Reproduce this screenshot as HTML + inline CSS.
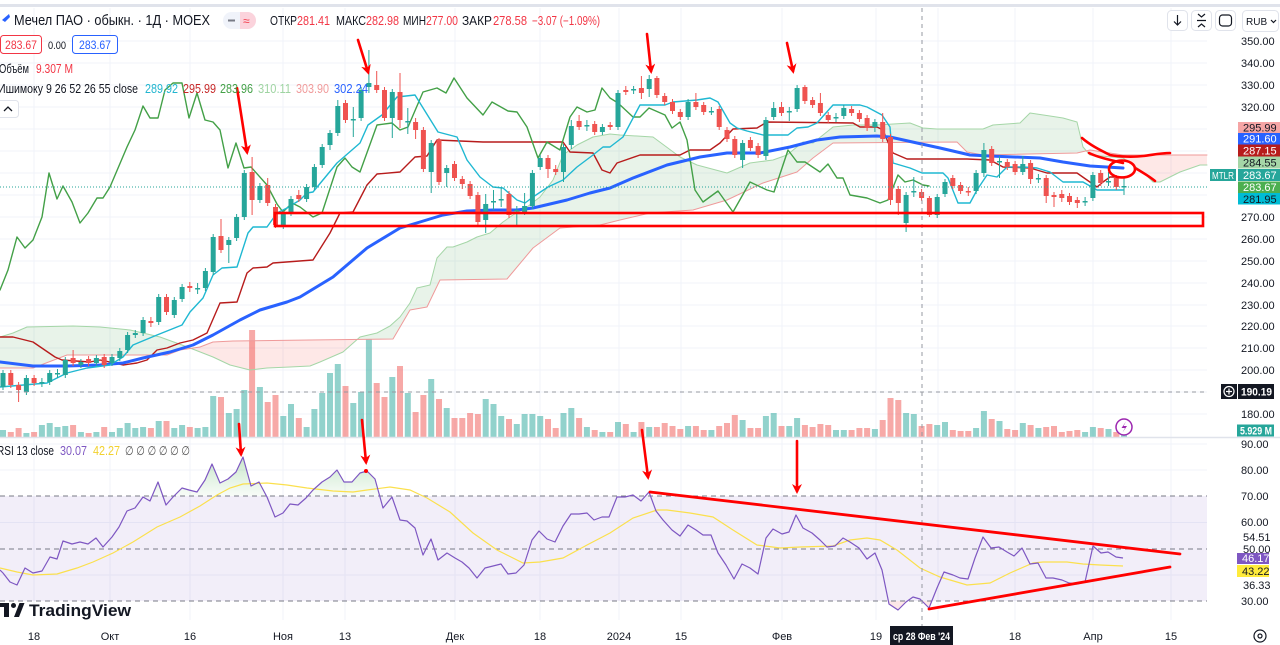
<!DOCTYPE html>
<html><head><meta charset="utf-8">
<style>
html,body{margin:0;padding:0;background:#fff;width:1280px;height:645px;overflow:hidden}
svg{display:block;font-family:"Liberation Sans","DejaVu Sans",sans-serif}
</style></head><body>
<svg width="1280" height="645" viewBox="0 0 1280 645" xmlns="http://www.w3.org/2000/svg">
<defs>
<clipPath id="cg1"><rect x="0" y="0" width="190" height="440"/></clipPath>
<clipPath id="cr1"><rect x="190" y="0" width="165" height="440"/></clipPath>
<clipPath id="cg2"><rect x="355" y="0" width="731" height="440"/></clipPath>
<clipPath id="cr2"><rect x="1086" y="0" width="124" height="440"/></clipPath>
<clipPath id="ob"><rect x="0" y="438" width="1207" height="58"/></clipPath>
<clipPath id="os"><rect x="0" y="601" width="1207" height="19"/></clipPath>
<linearGradient id="gob" x1="0" y1="450" x2="0" y2="496" gradientUnits="userSpaceOnUse">
<stop offset="0" stop-color="#4caf50" stop-opacity="0.35"/><stop offset="1" stop-color="#4caf50" stop-opacity="0.04"/></linearGradient>
<marker id="ah" viewBox="0 0 10 10" refX="7" refY="5" markerWidth="10" markerHeight="10" markerUnits="userSpaceOnUse" orient="auto"><path d="M0,0 L10,5 L0,10 L3,5 z" fill="#ff0000"/></marker>
</defs>
<rect x="0" y="0" width="1280" height="645" fill="#fff"/>
<rect x="0" y="4" width="1280" height="3" fill="#e0e3eb"/>

<!-- grid -->
<g stroke="#f0f3fa" stroke-width="1">
<path d="M0,41H1207M0,63H1207M0,85H1207M0,107H1207M0,129H1207M0,151H1207M0,173H1207M0,195H1207M0,217H1207M0,239H1207M0,261H1207M0,283H1207M0,305H1207M0,326H1207M0,348H1207M0,370H1207M0,392H1207M0,414H1207M0,444H1207M0,470H1207M0,522.5H1207M0,575H1207"/>
<path d="M34,8V620M110,8V620M190,8V620M283,8V620M345,8V620M455,8V620M540,8V620M619,8V620M681,8V620M782,8V620M876,8V620M938,8V620M1015,8V620M1093,8V620M1171,8V620"/>
</g>
<rect x="0" y="496" width="1207" height="105" fill="#7e57c2" fill-opacity="0.1"/>

<!-- cloud -->
<g>
<polygon clip-path="url(#cg1)" fill="rgba(67,160,71,0.12)" points="0,337 13,333 27,327 73,326 100,327 130,330 160,337 182,345 190,348 213,357 230,365 250,370 267,368 290,367 310,366 320,362 343,352 360,337 377,333 390,326 400,317 410,303 417,288 430,285 437,258 447,247 453,247 467,242 477,237 490,233 503,222 513,215 527,207 540,197 553,180 563,155 577,145 593,137 610,134 620,135 653,137 680,157 697,165 727,173 750,163 773,160 787,155 803,142 813,143 823,135 833,127 853,125 877,125 910,123 923,128 937,129 983,129 993,125 1020,123 1030,113 1050,116 1063,118 1077,122 1083,147 1090,155 1123,158 1143,172 1153,182 1160,182 1180,172 1200,165 1207,165 1207,155 1123,155 1090,150 1077,153 983,155 967,152 957,142 833,143 813,158 797,172 763,183 727,200 693,210 650,213 620,220 600,225 560,228 533,248 507,279 440,280 427,307 410,310 393,339 310,340 233,341 213,342 200,347 180,350 167,355 67,355 33,368 0,368"/>
<polygon clip-path="url(#cr1)" fill="rgba(244,67,54,0.12)" points="0,337 13,333 27,327 73,326 100,327 130,330 160,337 182,345 190,348 213,357 230,365 250,370 267,368 290,367 310,366 320,362 343,352 360,337 377,333 390,326 400,317 410,303 417,288 430,285 437,258 447,247 453,247 467,242 477,237 490,233 503,222 513,215 527,207 540,197 553,180 563,155 577,145 593,137 610,134 620,135 653,137 680,157 697,165 727,173 750,163 773,160 787,155 803,142 813,143 823,135 833,127 853,125 877,125 910,123 923,128 937,129 983,129 993,125 1020,123 1030,113 1050,116 1063,118 1077,122 1083,147 1090,155 1123,158 1143,172 1153,182 1160,182 1180,172 1200,165 1207,165 1207,155 1123,155 1090,150 1077,153 983,155 967,152 957,142 833,143 813,158 797,172 763,183 727,200 693,210 650,213 620,220 600,225 560,228 533,248 507,279 440,280 427,307 410,310 393,339 310,340 233,341 213,342 200,347 180,350 167,355 67,355 33,368 0,368"/>
<polygon clip-path="url(#cg2)" fill="rgba(67,160,71,0.12)" points="0,337 13,333 27,327 73,326 100,327 130,330 160,337 182,345 190,348 213,357 230,365 250,370 267,368 290,367 310,366 320,362 343,352 360,337 377,333 390,326 400,317 410,303 417,288 430,285 437,258 447,247 453,247 467,242 477,237 490,233 503,222 513,215 527,207 540,197 553,180 563,155 577,145 593,137 610,134 620,135 653,137 680,157 697,165 727,173 750,163 773,160 787,155 803,142 813,143 823,135 833,127 853,125 877,125 910,123 923,128 937,129 983,129 993,125 1020,123 1030,113 1050,116 1063,118 1077,122 1083,147 1090,155 1123,158 1143,172 1153,182 1160,182 1180,172 1200,165 1207,165 1207,155 1123,155 1090,150 1077,153 983,155 967,152 957,142 833,143 813,158 797,172 763,183 727,200 693,210 650,213 620,220 600,225 560,228 533,248 507,279 440,280 427,307 410,310 393,339 310,340 233,341 213,342 200,347 180,350 167,355 67,355 33,368 0,368"/>
<polygon clip-path="url(#cr2)" fill="rgba(244,67,54,0.12)" points="0,337 13,333 27,327 73,326 100,327 130,330 160,337 182,345 190,348 213,357 230,365 250,370 267,368 290,367 310,366 320,362 343,352 360,337 377,333 390,326 400,317 410,303 417,288 430,285 437,258 447,247 453,247 467,242 477,237 490,233 503,222 513,215 527,207 540,197 553,180 563,155 577,145 593,137 610,134 620,135 653,137 680,157 697,165 727,173 750,163 773,160 787,155 803,142 813,143 823,135 833,127 853,125 877,125 910,123 923,128 937,129 983,129 993,125 1020,123 1030,113 1050,116 1063,118 1077,122 1083,147 1090,155 1123,158 1143,172 1153,182 1160,182 1180,172 1200,165 1207,165 1207,155 1123,155 1090,150 1077,153 983,155 967,152 957,142 833,143 813,158 797,172 763,183 727,200 693,210 650,213 620,220 600,225 560,228 533,248 507,279 440,280 427,307 410,310 393,339 310,340 233,341 213,342 200,347 180,350 167,355 67,355 33,368 0,368"/>
</g>

<!-- volume -->
<path fill="rgba(38,166,154,0.5)" d="M0,437V430h6V437zM23.4,437V433h6V437zM38.9,437V425h6V437zM46.7,437V423h6V437zM54.5,437V427h6V437zM62.3,437V426h6V437zM77.9,437V432h6V437zM93.4,437V432h6V437zM109,437V432h6V437zM116.8,437V428h6V437zM124.6,437V423h6V437zM132.3,437V428h6V437zM140.1,437V427h6V437zM155.7,437V421h6V437zM171.3,437V428h6V437zM179.1,437V425h6V437zM194.6,437V428h6V437zM202.4,437V427h6V437zM210.2,437V396h6V437zM225.8,437V413h6V437zM233.6,437V409h6V437zM241.3,437V390h6V437zM256.9,437V387h6V437zM280.3,437V416h6V437zM288,437V404h6V437zM303.6,437V427h6V437zM311.4,437V409h6V437zM319.2,437V393h6V437zM327,437V373h6V437zM334.8,437V364h6V437zM350.3,437V403h6V437zM358.1,437V392h6V437zM365.9,437V339h6V437zM389.3,437V377h6V437zM404.8,437V393h6V437zM428.2,437V379h6V437zM443.7,437V408h6V437zM482.7,437V399h6V437zM490.5,437V404h6V437zM498.2,437V416h6V437zM513.8,437V424h6V437zM521.6,437V414h6V437zM529.4,437V414h6V437zM537.2,437V416h6V437zM560.5,437V413h6V437zM568.3,437V408h6V437zM583.9,437V427h6V437zM599.4,437V432h6V437zM615,437V422h6V437zM630.6,437V432h6V437zM646.2,437V427h6V437zM685.1,437V426h6V437zM708.4,437V430h6V437zM739.6,437V420h6V437zM762.9,437V416h6V437zM770.7,437V413h6V437zM786.3,437V426h6V437zM794.1,437V418h6V437zM833,437V430h6V437zM840.8,437V430h6V437zM871.9,437V429h6V437zM903.1,437V413h6V437zM910.8,437V414h6V437zM934.2,437V425h6V437zM942,437V422h6V437zM973.1,437V428h6V437zM980.9,437V411h6V437zM996.5,437V421h6V437zM1019.8,437V423h6V437zM1035.4,437V428h6V437zM1082.1,437V432h6V437zM1089.9,437V427h6V437zM1105.5,437V429h6V437zM1121,437V435h6V437z"/>
<path fill="rgba(239,83,80,0.5)" d="M7.8,437V432h6V437zM15.6,437V428h6V437zM31.1,437V432h6V437zM70.1,437V425h6V437zM85.6,437V433h6V437zM101.2,437V427h6V437zM147.9,437V428h6V437zM163.5,437V421h6V437zM186.8,437V427h6V437zM218,437V397h6V437zM249.1,437V330h6V437zM264.7,437V402h6V437zM272.5,437V395h6V437zM295.8,437V418h6V437zM342.5,437V386h6V437zM373.7,437V383h6V437zM381.5,437V397h6V437zM397,437V366h6V437zM412.6,437V412h6V437zM420.4,437V395h6V437zM436,437V399h6V437zM451.5,437V418h6V437zM459.3,437V418h6V437zM467.1,437V413h6V437zM474.9,437V414h6V437zM506,437V419h6V437zM545,437V419h6V437zM552.7,437V428h6V437zM576.1,437V418h6V437zM591.7,437V430h6V437zM607.2,437V432h6V437zM622.8,437V424h6V437zM638.4,437V422h6V437zM653.9,437V427h6V437zM661.7,437V423h6V437zM669.5,437V426h6V437zM677.3,437V429h6V437zM692.9,437V426h6V437zM700.7,437V430h6V437zM716.2,437V426h6V437zM724,437V423h6V437zM731.8,437V415h6V437zM747.4,437V428h6V437zM755.1,437V428h6V437zM778.5,437V426h6V437zM801.9,437V425h6V437zM809.6,437V427h6V437zM817.4,437V424h6V437zM825.2,437V425h6V437zM848.6,437V430h6V437zM856.4,437V428h6V437zM864.1,437V428h6V437zM879.7,437V420h6V437zM887.5,437V398h6V437zM895.3,437V400h6V437zM918.6,437V426h6V437zM926.4,437V424h6V437zM949.8,437V430h6V437zM957.6,437V431h6V437zM965.3,437V431h6V437zM988.7,437V419h6V437zM1004.3,437V429h6V437zM1012.1,437V430h6V437zM1027.6,437V425h6V437zM1043.2,437V427h6V437zM1051,437V426h6V437zM1058.8,437V432h6V437zM1066.5,437V431h6V437zM1074.3,437V430h6V437zM1097.7,437V428h6V437zM1113.3,437V432h6V437z"/>

<!-- ichimoku lines -->
<g fill="none" stroke-linejoin="round" stroke-linecap="round">
<polyline stroke="#a5d6a7" stroke-width="1" points="0,337 13,333 27,327 73,326 100,327 130,330 160,337 182,345 190,348 213,357 230,365 250,370 267,368 290,367 310,366 320,362 343,352 360,337 377,333 390,326 400,317 410,303 417,288 430,285 437,258 447,247 453,247 467,242 477,237 490,233 503,222 513,215 527,207 540,197 553,180 563,155 577,145 593,137 610,134 620,135 653,137 680,157 697,165 727,173 750,163 773,160 787,155 803,142 813,143 823,135 833,127 853,125 877,125 910,123 923,128 937,129 983,129 993,125 1020,123 1030,113 1050,116 1063,118 1077,122 1083,147 1090,155 1123,158 1143,172 1153,182 1160,182 1180,172 1200,165 1207,165"/>
<polyline stroke="#ef9a9a" stroke-width="1" points="0,368 33,368 67,355 167,355 180,350 200,347 213,342 233,341 310,340 393,339 410,310 427,307 440,280 507,279 533,248 560,228 600,225 620,220 650,213 693,210 727,200 763,183 797,172 813,158 833,143 957,142 967,152 983,155 1077,153 1090,150 1123,155 1207,155"/>
<polyline stroke="#b71c1c" stroke-width="1.4" points="0,337 13,337 33,342 55,357 62,360 90,362 100,360 110,362 123,365 137,363 147,360 157,350 167,348 180,343 193,340 207,333 220,303 237,302 247,273 253,268 267,267 273,263 313,260 330,233 340,213 353,212 367,185 377,174 400,172 415,157 427,156 437,140 483,142 563,142 570,152 593,153 602,170 610,173 617,163 640,155 680,155 690,150 710,150 720,143 733,129 757,128 767,122 853,123 860,127 877,127 883,130 890,147 893,153 907,159 967,159 990,160 1003,167 1030,168 1047,173 1077,173 1087,180 1097,187 1103,182 1110,177 1123,177"/>
<polyline stroke="#43a047" stroke-width="1.4" points="0,290 8,270 17,237 25,248 33,240 42,217 49,173 57,199 63,186 72,202 80,223 88,213 97,198 103,198 110,187 127,147 135,130 143,106 150,118 158,118 165,90 173,83 182,83 189,118 197,93 205,120 213,122 220,130 228,168 236,143 244,168 251,167 267,185 277,204 283,212 292,203 300,207 313,217 322,213 337,167 345,158 352,167 360,172 377,125 392,123 400,130 408,127 423,92 437,88 446,93 454,78 467,98 483,115 492,102 508,111 517,112 527,127 538,158 547,142 560,150 570,117 577,107 587,112 595,110 602,88 610,98 618,103 633,117 640,117 649,108 665,115 672,128 680,122 687,140 695,190 703,202 718,191 733,212 750,182 767,190 774,192 788,150 797,162 805,162 820,172 828,164 837,178 843,178 850,195 867,198 880,203 888,200 898,175 905,182 913,180 923,185 929,186"/>
<polyline stroke="#2962ff" stroke-width="3" points="0,362 33,366 67,366 100,365 123,363 143,358 170,352 193,345 213,335 240,320 260,310 287,302 300,297 333,277 367,248 400,228 420,222 443,215 467,211 493,210 517,210 533,208 567,200 590,193 610,188 633,178 667,165 700,157 727,153 760,153 790,147 817,140 840,137 877,136 890,137 917,143 940,148 970,155 990,156 1040,158 1063,162 1090,166 1123,168"/>
<polyline stroke="#1fb8d2" stroke-width="1.4" points="0,387 47,383 67,373 87,368 110,365 123,357 133,345 157,335 182,325 190,312 203,298 213,275 222,268 237,267 248,233 253,227 267,227 277,213 287,208 300,200 307,193 313,192 337,163 360,143 368,125 382,115 397,97 415,95 438,132 457,137 467,160 480,177 493,187 503,188 517,200 525,203 533,197 548,187 563,180 577,167 593,155 603,147 610,147 623,137 640,105 665,105 673,102 697,100 710,98 718,102 730,123 737,128 747,131 763,135 788,135 797,128 808,127 817,123 833,105 860,105 867,107 882,115 890,127 893,163 910,168 922,173 943,173 948,178 958,203 970,203 977,190 987,175 997,177 1007,167 1023,167 1037,168 1050,172 1063,182 1083,182 1097,190 1123,190"/>
</g>

<!-- candles -->
<path fill="none" stroke="#26a69a" stroke-width="1" d="M3,370V390M26.4,375V395M41.9,378V387M49.7,370V385M57.5,369V378M65.3,357V378M80.9,359V368M96.4,355V366M112,354V366M119.8,348V361M127.6,332V353M135.3,330V338M143.1,317V336M158.7,294V325M174.3,297V318M182.1,284V302M197.6,283V294M205.4,268V291M213.2,234V275M228.8,237V263M236.6,214V241M244.3,170V220M259.9,183V203M283.3,210V229M291,196V216M306.6,184V202M314.4,164V190M322.2,144V168M330,130V150M337.8,100V136M353.3,107V137M361.1,87V121M368.9,50V93M392.3,89V138M407.8,108V134M431.2,140V193M446.7,165V187M485.7,194V233M493.5,190V210M501.2,188V207M516.8,206V225M524.6,193V215M532.4,170V209M540.2,155V170M563.5,144V182M571.3,120V149M586.9,120V131M602.4,124V135M618,90V130M633.6,86V94M649.2,75V97M688.1,99V120M711.4,107V115M742.6,140V168M765.9,117V160M773.7,102V120M789.3,107V121M797.1,85V112M836,113V122M843.8,105V119M874.9,119V132M906.1,192V232M913.8,177V197M937.2,194V218M945,179V197M976.1,170V194M983.9,143V177M999.5,156V178M1022.8,156V175M1038.4,174V183M1085.1,197V206M1092.9,172V201M1108.5,172V186M1124,178V195"/>
<path fill="#26a69a" d="M0.5,373h5V387h-5zM23.9,378h5V392h-5zM39.4,382h5V383.5h-5zM47.2,373h5V382h-5zM55,373h5V374.5h-5zM62.8,360h5V375h-5zM78.4,362h5V365h-5zM93.9,358h5V363h-5zM109.5,357h5V363h-5zM117.3,351h5V358h-5zM125.1,335h5V350h-5zM132.8,333h5V335h-5zM140.6,320h5V333h-5zM156.2,297h5V322h-5zM171.8,300h5V315h-5zM179.6,287h5V299h-5zM195.1,288h5V289.5h-5zM202.9,271h5V288h-5zM210.7,237h5V272h-5zM226.3,240h5V245h-5zM234.1,217h5V238h-5zM241.8,173h5V217h-5zM257.4,186h5V200h-5zM280.8,213h5V225h-5zM288.5,199h5V213h-5zM304.1,187h5V199h-5zM311.9,167h5V187h-5zM319.7,147h5V165h-5zM327.5,133h5V145h-5zM335.3,106h5V133h-5zM350.8,119h5V120.5h-5zM358.6,90h5V118h-5zM366.4,83h5V87h-5zM389.8,92h5V118h-5zM405.3,121h5V122.5h-5zM428.7,143h5V172h-5zM444.2,168h5V173h-5zM483.2,204h5V220h-5zM491,201h5V202.5h-5zM498.7,199h5V200.5h-5zM514.3,210h5V211.5h-5zM522.1,206h5V212h-5zM529.9,173h5V206h-5zM537.7,158h5V167h-5zM561,147h5V172h-5zM568.8,126h5V145h-5zM584.4,125h5V126.5h-5zM599.9,127h5V132h-5zM615.5,93h5V127h-5zM631.1,89h5V90.5h-5zM646.7,79h5V89h-5zM685.6,102h5V117h-5zM708.9,111h5V112.5h-5zM740.1,143h5V160h-5zM763.4,120h5V156h-5zM771.2,108h5V117h-5zM786.8,111h5V112.5h-5zM794.6,88h5V109h-5zM833.5,117h5V118.5h-5zM841.3,108h5V116h-5zM872.4,122h5V127h-5zM903.6,195h5V223h-5zM911.3,191h5V192.5h-5zM934.7,197h5V215h-5zM942.5,182h5V194h-5zM973.6,173h5V191h-5zM981.4,150h5V173h-5zM997,161h5V162.5h-5zM1020.3,164h5V172h-5zM1035.9,178h5V179.5h-5zM1082.6,201h5V202.5h-5zM1090.4,175h5V198h-5zM1106,181h5V182.5h-5zM1121.5,186h5V187.5h-5z"/>
<path fill="none" stroke="#ef5350" stroke-width="1" d="M10.8,370V388M18.6,382V402M34.1,375V386M73.1,350V366M88.6,356V366M104.2,354V368M150.9,317V327M166.5,294V315M189.8,282V292M221,219V253M252.1,157V215M267.7,178V206M275.5,204V228M298.8,190V202M345.5,100V123M376.7,71V93M384.5,87V121M400,73V128M415.6,118V139M423.4,127V172M439,138V185M454.5,161V181M462.3,176V189M470.1,181V199M477.9,192V225M509,191V218M548,155V178M555.7,165V175M579.1,115V130M594.7,121V135M610.2,122V130M625.8,86V95M641.4,76V99M656.9,76V98M664.7,93V105M672.5,99V114M680.3,109V120M695.9,93V110M703.7,102V115M719.2,106V130M727,127V142M734.8,136V158M750.4,137V151M758.1,143V158M781.5,102V116M804.9,85V104M812.6,97V108M820.4,93V116M828.2,112V123M851.6,106V116M859.4,110V122M867.1,115V131M882.7,113V142M890.5,134V205M898.3,186V215M921.6,189V201M929.4,196V217M952.8,175V189M960.6,182V194M968.3,187V196M991.7,146V166M1007.3,159V170M1015.1,161V175M1030.6,160V184M1046.2,175V203M1054,192V207M1061.8,190V202M1069.5,193V205M1077.3,197V208M1100.7,170V186M1116.3,175V190"/>
<path fill="#ef5350" d="M8.3,373h5V385h-5zM16.1,385h5V390h-5zM31.6,378h5V383h-5zM70.6,358h5V363h-5zM86.1,359h5V363h-5zM101.7,357h5V365h-5zM148.4,321h5V323h-5zM164,297h5V312h-5zM187.3,286h5V288h-5zM218.5,236h5V250h-5zM249.6,172h5V200h-5zM265.2,185h5V203h-5zM273,207h5V225h-5zM296.3,195h5V199h-5zM343,103h5V120h-5zM374.2,85h5V90h-5zM382,90h5V118h-5zM397.5,92h5V120h-5zM413.1,122h5V130h-5zM420.9,130h5V169h-5zM436.5,140h5V182h-5zM452,164h5V178h-5zM459.8,179h5V184h-5zM467.6,184h5V196h-5zM475.4,195h5V222h-5zM506.5,194h5V215h-5zM545.5,158h5V169h-5zM553.2,169h5V172h-5zM576.6,121h5V127h-5zM592.2,124h5V132h-5zM607.7,125h5V127h-5zM623.3,90h5V92h-5zM638.9,88h5V93h-5zM654.4,78h5V95h-5zM662.2,96h5V102h-5zM670,102h5V111h-5zM677.8,112h5V117h-5zM693.4,102h5V107h-5zM701.2,105h5V112h-5zM716.7,109h5V127h-5zM724.5,130h5V139h-5zM732.3,139h5V155h-5zM747.9,140h5V148h-5zM755.6,146h5V155h-5zM779,107h5V113h-5zM802.4,87h5V101h-5zM810.1,100h5V105h-5zM817.9,103h5V113h-5zM825.7,115h5V120h-5zM849.1,109h5V113h-5zM856.9,113h5V119h-5zM864.6,118h5V128h-5zM880.2,122h5V139h-5zM888,137h5V200h-5zM895.8,189h5V203h-5zM919.1,192h5V198h-5zM926.9,198h5V215h-5zM950.3,178h5V186h-5zM958.1,185h5V191h-5zM965.8,191h5V192.5h-5zM989.2,149h5V163h-5zM1004.8,162h5V167h-5zM1012.6,164h5V172h-5zM1028.1,163h5V179h-5zM1043.7,178h5V196h-5zM1051.5,195h5V197h-5zM1059.3,194h5V198h-5zM1067,196h5V202h-5zM1074.8,200h5V203h-5zM1098.2,173h5V183h-5zM1113.8,178h5V187h-5z"/>

<!-- RSI -->
<polygon clip-path="url(#ob)" fill="url(#gob)" points="0,570 3,573 10,582 17,585 25,568 33,573 42,571 50,557 57,559 63,541 72,544 80,542 88,544 96,538 103,547 112,537 119,527 127,511 135,508 143,497 150,501 158,482 166,505 173,497 182,488 189,490 197,492 205,480 212,464 220,483 228,479 236,472 243,457 251,486 259,482 267,497 275,517 283,513 290,504 298,505 306,498 313,490 322,482 330,477 337,470 344,482 352,482 360,473 367,471 375,479 383,508 392,497 400,520 407,521 415,528 423,555 431,539 438,560 447,553 455,558 462,562 469,568 477,578 485,568 493,566 501,564 508,574 516,573 524,565 532,540 539,531 547,539 555,542 563,526 571,514 579,514 587,513 594,520 602,517 609,517 617,497 625,497 633,495 641,501 649,492 656,511 663,520 672,530 680,536 688,525 696,530 703,535 711,535 718,553 726,565 734,579 742,564 750,568 758,574 766,538 773,529 782,534 789,532 796,515 803,528 812,533 820,540 827,547 835,546 843,538 850,542 859,548 867,559 875,553 882,570 889,604 898,610 906,602 913,597 920,599 929,608 937,588 944,572 953,575 960,578 968,579 975,558 983,537 991,548 999,547 1007,552 1014,556 1022,548 1030,564 1038,563 1046,578 1053,578 1062,580 1069,583 1077,584 1085,582 1093,546 1101,553 1108,552 1116,557 1123,558 1123,496 0,496"/>
<polygon clip-path="url(#os)" fill="rgba(242,54,69,0.12)" points="0,570 3,573 10,582 17,585 25,568 33,573 42,571 50,557 57,559 63,541 72,544 80,542 88,544 96,538 103,547 112,537 119,527 127,511 135,508 143,497 150,501 158,482 166,505 173,497 182,488 189,490 197,492 205,480 212,464 220,483 228,479 236,472 243,457 251,486 259,482 267,497 275,517 283,513 290,504 298,505 306,498 313,490 322,482 330,477 337,470 344,482 352,482 360,473 367,471 375,479 383,508 392,497 400,520 407,521 415,528 423,555 431,539 438,560 447,553 455,558 462,562 469,568 477,578 485,568 493,566 501,564 508,574 516,573 524,565 532,540 539,531 547,539 555,542 563,526 571,514 579,514 587,513 594,520 602,517 609,517 617,497 625,497 633,495 641,501 649,492 656,511 663,520 672,530 680,536 688,525 696,530 703,535 711,535 718,553 726,565 734,579 742,564 750,568 758,574 766,538 773,529 782,534 789,532 796,515 803,528 812,533 820,540 827,547 835,546 843,538 850,542 859,548 867,559 875,553 882,570 889,604 898,610 906,602 913,597 920,599 929,608 937,588 944,572 953,575 960,578 968,579 975,558 983,537 991,548 999,547 1007,552 1014,556 1022,548 1030,564 1038,563 1046,578 1053,578 1062,580 1069,583 1077,584 1085,582 1093,546 1101,553 1108,552 1116,557 1123,558 1123,601 0,601"/>
<path d="M0,496H1207M0,549H1207M0,601H1207" stroke="#787b86" stroke-dasharray="5,4" stroke-width="1" fill="none"/>
<polyline fill="none" stroke="#fbe04d" stroke-width="1.2" points="0,568 17,572 33,575 57,574 77,568 93,562 113,553 133,542 157,527 180,517 200,506 217,495 230,488 243,484 267,483 287,485 307,488 333,491 353,492 367,490 390,487 410,490 427,498 450,512 473,533 497,550 523,563 540,562 563,558 587,545 610,533 633,518 657,510 667,510 690,513 713,517 733,530 757,545 780,548 800,547 833,546 850,540 867,538 880,540 897,550 920,568 940,577 967,585 990,583 1010,573 1033,563 1043,562 1067,562 1083,564 1100,565 1123,566"/>
<polyline fill="none" stroke="#7e57c2" stroke-width="1.2" stroke-linejoin="round" points="0,570 3,573 10,582 17,585 25,568 33,573 42,571 50,557 57,559 63,541 72,544 80,542 88,544 96,538 103,547 112,537 119,527 127,511 135,508 143,497 150,501 158,482 166,505 173,497 182,488 189,490 197,492 205,480 212,464 220,483 228,479 236,472 243,457 251,486 259,482 267,497 275,517 283,513 290,504 298,505 306,498 313,490 322,482 330,477 337,470 344,482 352,482 360,473 367,471 375,479 383,508 392,497 400,520 407,521 415,528 423,555 431,539 438,560 447,553 455,558 462,562 469,568 477,578 485,568 493,566 501,564 508,574 516,573 524,565 532,540 539,531 547,539 555,542 563,526 571,514 579,514 587,513 594,520 602,517 609,517 617,497 625,497 633,495 641,501 649,492 656,511 663,520 672,530 680,536 688,525 696,530 703,535 711,535 718,553 726,565 734,579 742,564 750,568 758,574 766,538 773,529 782,534 789,532 796,515 803,528 812,533 820,540 827,547 835,546 843,538 850,542 859,548 867,559 875,553 882,570 889,604 898,610 906,602 913,597 920,599 929,608 937,588 944,572 953,575 960,578 968,579 975,558 983,537 991,548 999,547 1007,552 1014,556 1022,548 1030,564 1038,563 1046,578 1053,578 1062,580 1069,583 1077,584 1085,582 1093,546 1101,553 1108,552 1116,557 1123,558"/>

<!-- crosshair & price lines -->
<line x1="0" y1="187" x2="1207" y2="187" stroke="#26a69a" stroke-dasharray="1,2" stroke-width="1"/>
<line x1="0" y1="392" x2="1207" y2="392" stroke="#9598a1" stroke-dasharray="4,4" stroke-width="1"/>
<line x1="922" y1="8" x2="922" y2="626" stroke="#9598a1" stroke-dasharray="4,4" stroke-width="1"/>
<line x1="0" y1="437.5" x2="1280" y2="437.5" stroke="#e0e3eb" stroke-width="1.5"/>

<!-- annotations -->
<g stroke="#ff0000" fill="none" stroke-width="2.6" stroke-linecap="round">
<rect x="275" y="213" width="928" height="13"/>
<line x1="237" y1="88" x2="247" y2="152" marker-end="url(#ah)"/>
<line x1="358" y1="40" x2="368" y2="72" marker-end="url(#ah)"/>
<line x1="647" y1="34" x2="651" y2="71" marker-end="url(#ah)"/>
<line x1="787" y1="43" x2="793" y2="71" marker-end="url(#ah)"/>
<line x1="239" y1="424" x2="241" y2="454" marker-end="url(#ah)"/>
<line x1="362" y1="420" x2="366" y2="462" marker-end="url(#ah)"/>
<line x1="642" y1="430" x2="648" y2="477" marker-end="url(#ah)"/>
<line x1="797" y1="441" x2="797" y2="491" marker-end="url(#ah)"/>
<line x1="650" y1="492" x2="1180" y2="554" stroke-width="2.8"/>
<line x1="929" y1="609" x2="1170" y2="567" stroke-width="2.8"/>
<path d="M1082,138 C1090,145 1100,150 1110,155 C1120,157 1135,157 1143,156 C1152,155 1160,153 1170,153"/>
<path d="M1089,153 C1097,157 1110,160 1123,163"/>
<ellipse cx="1122" cy="169" rx="13" ry="8.5"/>
<path d="M1135,168 C1142,172 1149,176 1155,181"/>
</g>
<circle cx="366" cy="471" r="2" fill="#ff0000"/>

<!-- legend -->
<g font-size="12" fill="#131722">
<path d="M2,20 L9,14 L10,17 L5,22 z" fill="#2962ff"/>
<text x="14" y="25" font-size="14.5" textLength="196" lengthAdjust="spacingAndGlyphs">Мечел ПАО · обыкн. · 1Д · MOEX</text>
<rect x="223" y="12" width="33" height="17" rx="8.5" fill="#f0f3fa"/>
<path d="M240,12 h7.5 a8.5,8.5 0 0 1 0,17 h-7.5 z" fill="#fbd3dc"/>
<line x1="228" y1="20.5" x2="235" y2="20.5" stroke="#787b86" stroke-width="2"/>
<text x="243" y="25" font-size="12" fill="#f23645">≈</text>
<text y="25" font-size="12.5"><tspan x="270" textLength="27" lengthAdjust="spacingAndGlyphs">ОТКР</tspan><tspan x="297" fill="#f23645" textLength="33" lengthAdjust="spacingAndGlyphs">281.41</tspan><tspan x="336" textLength="30" lengthAdjust="spacingAndGlyphs">МАКС</tspan><tspan x="366" fill="#f23645" textLength="33" lengthAdjust="spacingAndGlyphs">282.98</tspan><tspan x="403" textLength="23" lengthAdjust="spacingAndGlyphs">МИН</tspan><tspan x="426" fill="#f23645" textLength="32" lengthAdjust="spacingAndGlyphs">277.00</tspan><tspan x="462" textLength="30" lengthAdjust="spacingAndGlyphs">ЗАКР</tspan><tspan x="493" fill="#f23645" textLength="34" lengthAdjust="spacingAndGlyphs">278.58</tspan><tspan x="532" fill="#f23645" textLength="68" lengthAdjust="spacingAndGlyphs">−3.07 (−1.09%)</tspan></text>

<rect x="0.5" y="35.5" width="41" height="18" rx="3" fill="#fff" stroke="#f23645"/>
<text x="5" y="49" fill="#f23645" textLength="32" lengthAdjust="spacingAndGlyphs">283.67</text>
<text x="48" y="49" font-size="11" textLength="18" lengthAdjust="spacingAndGlyphs">0.00</text>
<rect x="72.5" y="35.5" width="45" height="18" rx="3" fill="#fff" stroke="#2962ff"/>
<text x="79" y="49" fill="#2962ff" textLength="32" lengthAdjust="spacingAndGlyphs">283.67</text>

<text x="-1" y="73" font-size="12.5" textLength="30" lengthAdjust="spacingAndGlyphs">Объём</text>
<text x="36" y="73" font-size="12.5" fill="#f23645" textLength="37" lengthAdjust="spacingAndGlyphs">9.307 M</text>

<text x="-2" y="93" font-size="12.5" textLength="140" lengthAdjust="spacingAndGlyphs">Ишимоку 9 26 52 26 55 close</text>
<text y="93" font-size="12.5"><tspan x="145" fill="#22b5cf" textLength="33" lengthAdjust="spacingAndGlyphs">289.92</tspan><tspan x="183" fill="#c62828" textLength="33" lengthAdjust="spacingAndGlyphs">295.99</tspan><tspan x="220" fill="#43a047" textLength="33" lengthAdjust="spacingAndGlyphs">283.96</tspan><tspan x="258" fill="#9fd4a2" textLength="33" lengthAdjust="spacingAndGlyphs">310.11</tspan><tspan x="296" fill="#f09a9a" textLength="33" lengthAdjust="spacingAndGlyphs">303.90</tspan><tspan x="334" fill="#2962ff" textLength="34" lengthAdjust="spacingAndGlyphs">302.24</tspan></text>

<rect x="-2.5" y="100.5" width="21" height="17" rx="3" fill="#fff" stroke="#e0e3eb"/>
<path d="M4,111 L8,107 L12,111" fill="none" stroke="#131722" stroke-width="1.3"/>

<text x="-3" y="455" font-size="12.5" textLength="57" lengthAdjust="spacingAndGlyphs">RSI 13 close</text>
<text x="60" y="455" font-size="12.5" fill="#7e57c2" textLength="27" lengthAdjust="spacingAndGlyphs">30.07</text>
<text x="93" y="455" font-size="12.5" fill="#f2d12e" textLength="27" lengthAdjust="spacingAndGlyphs">42.27</text>
<text x="125" y="455" font-size="12.5" fill="#555" textLength="65" lengthAdjust="spacingAndGlyphs">∅ ∅ ∅ ∅ ∅ ∅</text>

<rect x="0" y="603" width="9" height="4" fill="#131722"/>
<rect x="4" y="603" width="5" height="14" fill="#131722"/>
<circle cx="13.5" cy="605.5" r="2.5" fill="#131722"/>
<polygon points="14,617 19.5,603 24.5,603 19,617" fill="#131722"/>
<text x="29" y="616" font-size="17" font-weight="bold" textLength="102" lengthAdjust="spacingAndGlyphs">TradingView</text>
</g>

<!-- top-right buttons -->
<g fill="#fff" stroke="#e0e3eb">
<rect x="1167.5" y="10.5" width="20" height="20" rx="4"/>
<rect x="1191.5" y="10.5" width="20" height="20" rx="4"/>
<rect x="1215.5" y="10.5" width="20" height="20" rx="4"/>
<rect x="1242.5" y="10.5" width="36" height="21" rx="4"/>
</g>
<g stroke="#131722" fill="none" stroke-width="1.2">
<path d="M1177.5,15 V25 M1174,21.5 L1177.5,25 L1181,21.5"/>
<path d="M1198,14 L1201.5,17 L1205,14 M1197,20.5 H1206 M1198,27 L1201.5,24 L1205,27"/>
<rect x="1219.5" y="15" width="12" height="11" rx="3"/>
<path d="M1271,20 L1273.5,22.5 L1276,20"/>
</g>
<text x="1246" y="25" font-size="10" fill="#131722">RUB</text>

<!-- price axis -->
<g font-size="11" fill="#131722">
<text x="1241" y="45">350.00</text><text x="1241" y="67">340.00</text><text x="1241" y="89">330.00</text><text x="1241" y="111">320.00</text>
<text x="1241" y="221">270.00</text><text x="1241" y="243">260.00</text><text x="1241" y="265">250.00</text><text x="1241" y="287">240.00</text>
<text x="1241" y="309">230.00</text><text x="1241" y="330">220.00</text><text x="1241" y="352">210.00</text><text x="1241" y="374">200.00</text>
<text x="1241" y="418">180.00</text>
<text x="1241" y="448">90.00</text><text x="1241" y="474">80.00</text><text x="1241" y="500">70.00</text><text x="1241" y="526">60.00</text>
<text x="1243" y="541">54.51</text><text x="1243" y="553">50.00</text><text x="1243" y="589">36.33</text><text x="1241" y="605">30.00</text>
</g>
<g font-size="11">
<rect x="1238" y="122" width="42" height="11" fill="#f5a5a5"/><text x="1243" y="131.5" fill="#131722">295.99</text>
<rect x="1238" y="133" width="42" height="11.5" fill="#2962ff"/><text x="1243" y="142.5" fill="#fff">291.60</text>
<rect x="1238" y="144.5" width="42" height="12" fill="#b71c1c"/><text x="1243" y="154.5" fill="#fff">287.15</text>
<rect x="1238" y="156.5" width="42" height="12" fill="#a5d6a7"/><text x="1243" y="166.5" fill="#131722">284.55</text>
<rect x="1210" y="169" width="26" height="12" fill="#26a69a"/><text x="1212" y="179" fill="#fff" font-size="10" textLength="22" lengthAdjust="spacingAndGlyphs">MTLR</text>
<rect x="1238" y="169" width="42" height="12" fill="#26a69a"/><text x="1243" y="179" fill="#fff">283.67</text>
<rect x="1238" y="181.5" width="42" height="11.5" fill="#4caf50"/><text x="1243" y="191" fill="#fff">283.67</text>
<rect x="1238" y="193" width="42" height="11.5" fill="#00bcd4"/><text x="1243" y="203" fill="#131722">281.95</text>
<rect x="1221" y="384" width="16" height="15" fill="#131722"/><circle cx="1229" cy="391.5" r="5" fill="none" stroke="#fff" stroke-width="1.2"/><path d="M1229,388.5 V394.5 M1226,391.5 H1232" stroke="#fff" stroke-width="1.2"/>
<rect x="1238" y="384" width="36" height="15" fill="#131722"/><text x="1241" y="395.5" fill="#fff" font-weight="bold" textLength="31" lengthAdjust="spacingAndGlyphs">190.19</text>
<rect x="1237" y="424.5" width="37" height="12" fill="#26a69a"/><text x="1240" y="434.5" fill="#fff" font-weight="bold" textLength="32" lengthAdjust="spacingAndGlyphs">5.929 M</text>
<rect x="1237" y="553" width="32" height="11" fill="#7e57c2"/><text x="1242" y="562" fill="#fff">46.17</text>
<rect x="1237" y="565" width="32" height="12" fill="#ffeb3b"/><text x="1242" y="575" fill="#131722">43.22</text>
</g>
<circle cx="1124" cy="427" r="8" fill="#fff" stroke="#9c27b0" stroke-width="1.5"/>
<path d="M1126,421.5 L1121.5,428 H1125 L1122.5,432.5 L1127,426 H1123.5 z" fill="#9c27b0"/>

<!-- time axis -->
<g font-size="11" fill="#131722" text-anchor="middle">
<text x="34" y="640">18</text><text x="110" y="640">Окт</text><text x="190" y="640">16</text><text x="283" y="640">Ноя</text>
<text x="345" y="640">13</text><text x="455" y="640">Дек</text><text x="540" y="640">18</text><text x="619" y="640">2024</text>
<text x="681" y="640">15</text><text x="782" y="640">Фев</text><text x="876" y="640">19</text><text x="1015" y="640">18</text>
<text x="1093" y="640">Апр</text><text x="1171" y="640">15</text>
</g>
<rect x="890" y="626" width="63" height="19" fill="#131722"/>
<text x="893" y="640" font-size="11" font-weight="bold" fill="#fff" textLength="57" lengthAdjust="spacingAndGlyphs">ср 28 Фев '24</text>
<circle cx="1260" cy="636" r="6" fill="none" stroke="#131722" stroke-width="1.2"/>
<circle cx="1260" cy="636" r="2" fill="none" stroke="#131722" stroke-width="1.2"/>
</svg>
</body></html>
